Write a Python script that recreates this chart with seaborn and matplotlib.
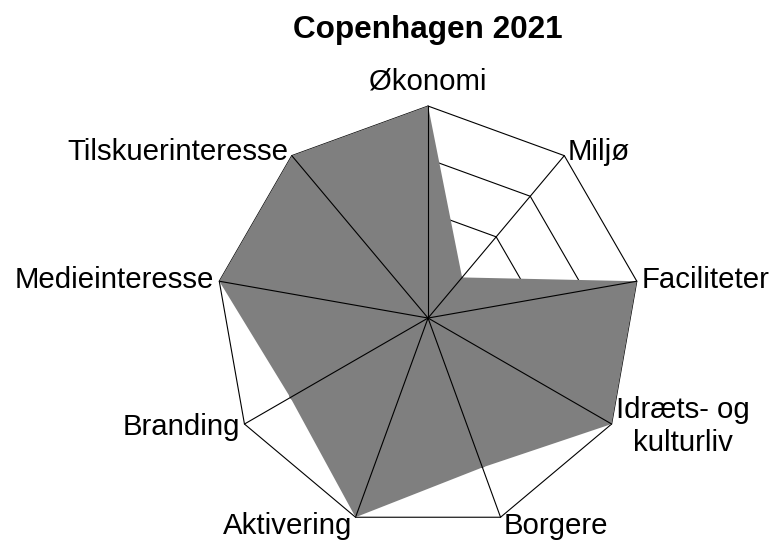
import numpy as np
import pandas as pd
import matplotlib
matplotlib.use("Agg")
import matplotlib.pyplot as plt
import seaborn as sns

# Radar chart: Copenhagen 2021 scores per category (scale 0-4)
categories = ["Økonomi", "Miljø", "Faciliteter", "Idræts- og\nkulturliv", "Borgere",
              "Aktivering", "Branding", "Medieinteresse", "Tilskuerinteresse"]
scores = [4, 1, 4, 4, 3, 4, 3, 4, 4]
levels = [1, 2, 3, 4]
title = "Copenhagen 2021"

sns.set_theme(style="white")
plt.rcParams["font.family"] = ["Liberation Sans", "DejaVu Sans"]
plt.rcParams["text.color"] = "black"

n = len(categories)
theta = np.linspace(0, 2 * np.pi, n, endpoint=False)
theta_closed = np.append(theta, theta[0])
rmax = max(levels)

fig = plt.figure(figsize=(7.76, 5.43), dpi=100)
ax = fig.add_axes([0.2784, 0.0239, 0.5464, 0.7808], projection="polar")
ax.set_theta_zero_location("N")
ax.set_theta_direction(-1)

# grid rings (polygons) under the fill
rings = pd.DataFrame({
    "theta": np.tile(theta_closed, len(levels)),
    "r": np.repeat(levels, n + 1),
    "ring": np.repeat(levels, n + 1),
})
sns.lineplot(data=rings, x="theta", y="r", units="ring", estimator=None, sort=False,
             color="black", lw=0.8, ax=ax, zorder=1, clip_on=False)

# filled score polygon
ax.fill(theta_closed, np.append(scores, scores[0]), color="#7f7f7f", lw=0, zorder=2)

# spokes on top
for t in theta:
    ax.plot([t, t], [0, rmax], color="black", lw=0.8, zorder=3, clip_on=False)

# category labels
for t, lab in zip(theta, categories):
    s, c = np.sin(t), np.cos(t)
    if abs(s) < 0.1:
        ha, va, r = "center", "bottom", rmax * 1.05
    else:
        ha, va = ("left" if s > 0 else "right"), "center"
        r = rmax * (1.025 if c > -0.9 else 1.045)
    ax.text(t, r, lab, ha=ha, va=va, fontsize=21.2, multialignment="center",
            color="black", clip_on=False)

ax.set_ylim(0, rmax)
ax.set_xticks([])
ax.set_yticks([])
ax.grid(False)
ax.spines["polar"].set_visible(False)
ax.set_xlabel("")
ax.set_ylabel("")
ax.patch.set_alpha(0)

fig.text(428 / 776, 1 - 38 / 543, title, ha="center", va="baseline",
         fontsize=22.7, fontweight="bold", color="black")

fig.savefig("out.png", dpi=100)
